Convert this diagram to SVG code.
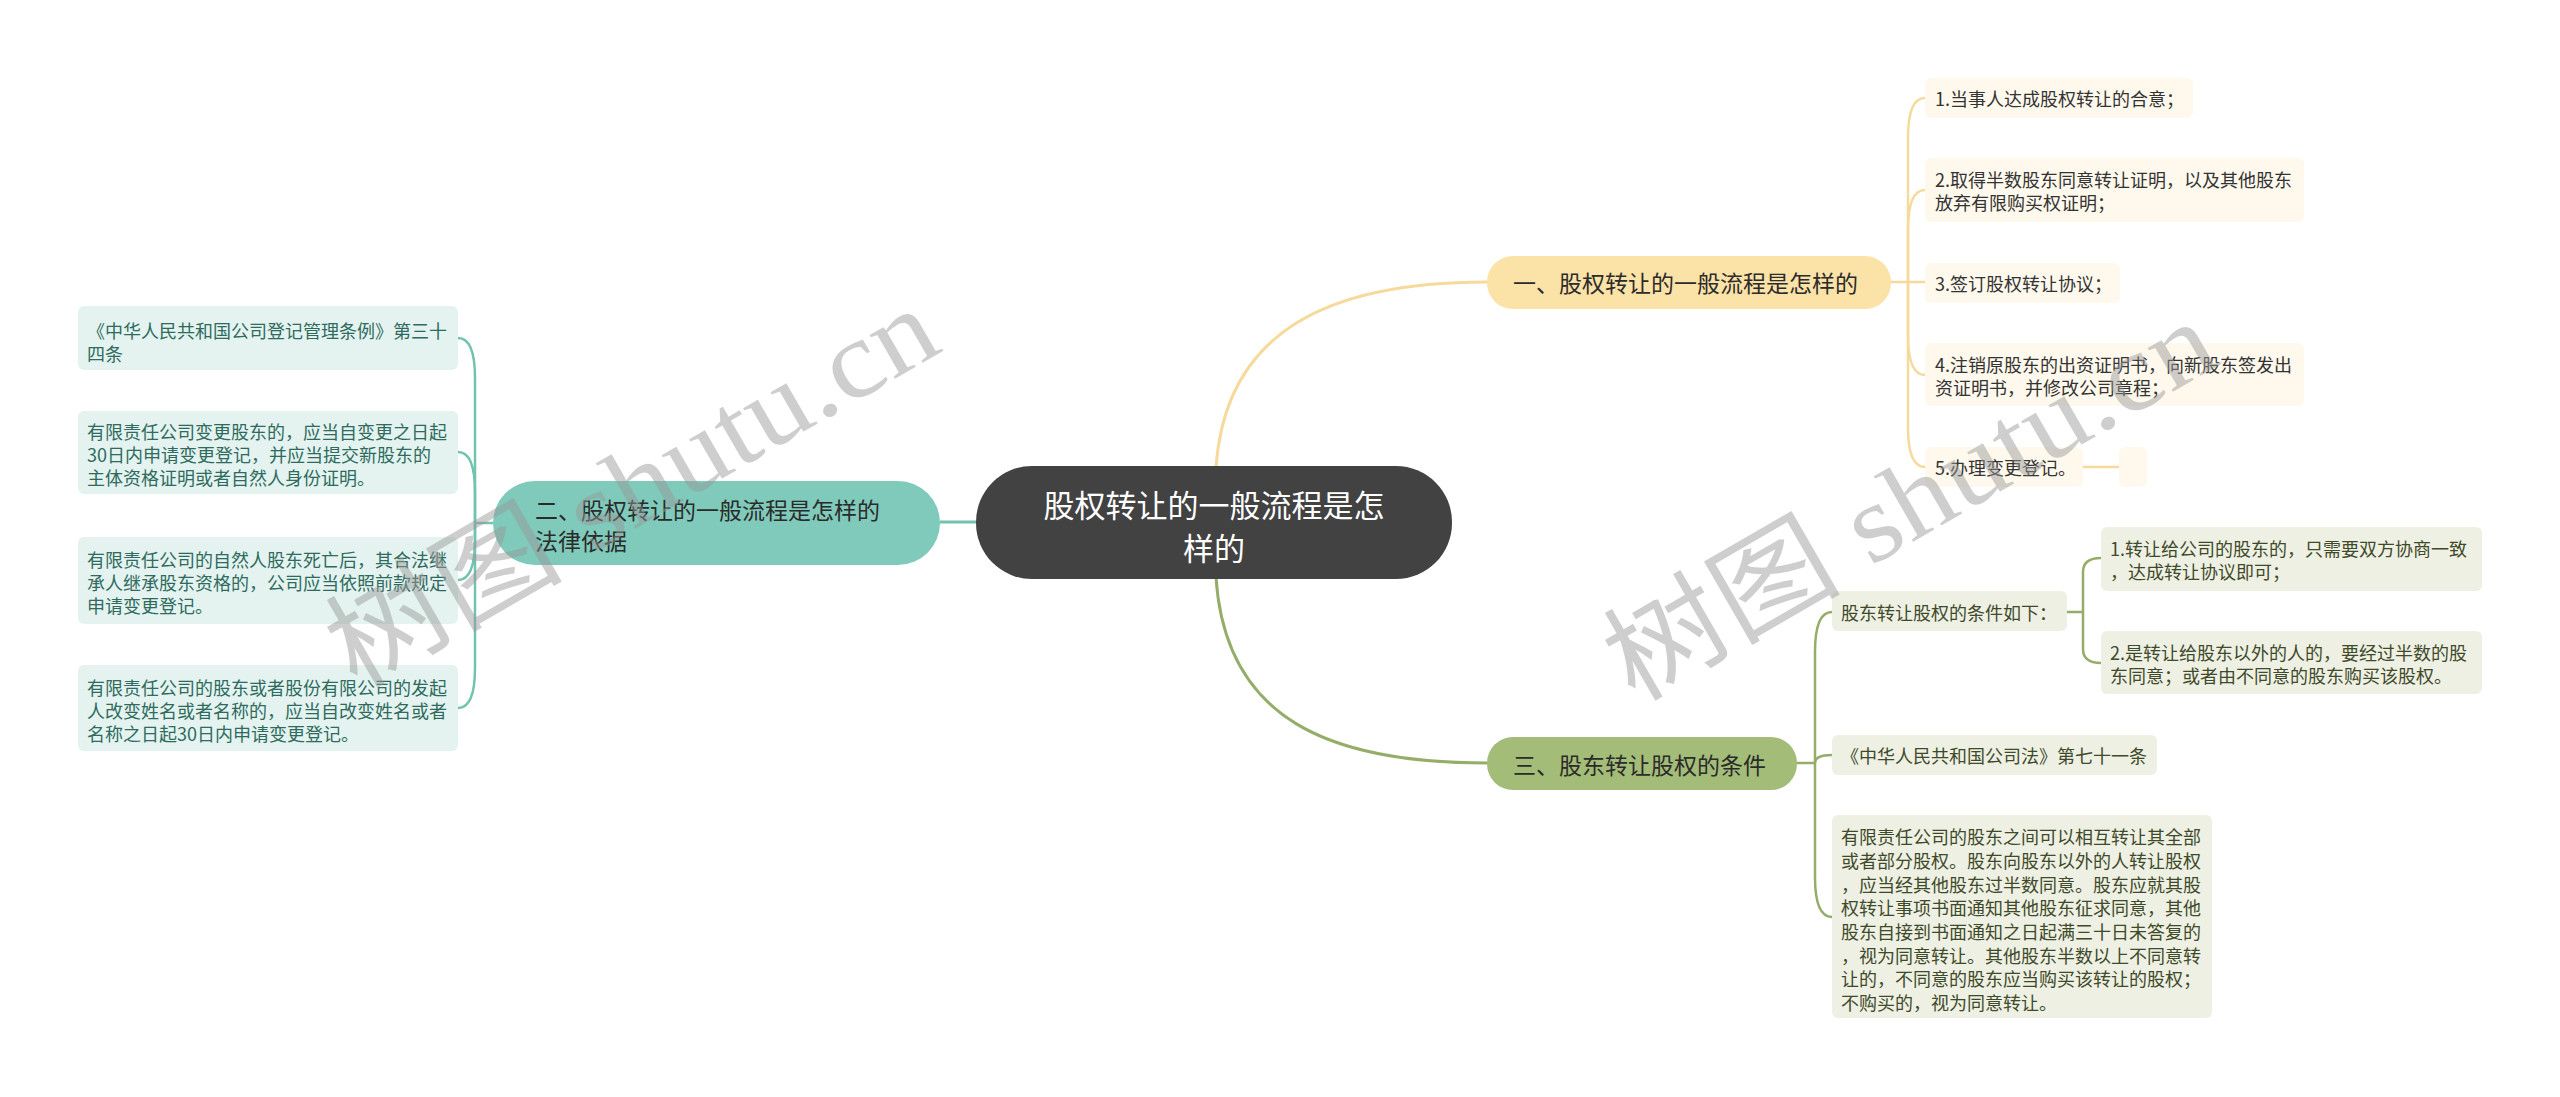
<svg xmlns="http://www.w3.org/2000/svg" width="2560" height="1097" viewBox="0 0 2560 1097">
<style>
text{font-family:"Noto Sans CJK SC","Liberation Sans",sans-serif;dominant-baseline:central}
.root{fill:#424242}
.rt{fill:#ffffff;font-size:31px;text-anchor:middle}
.b1{fill:#FBE2A7}.b2{fill:#7FCABA}.b3{fill:#A3BC77}
.bt{fill:#2b2b2b;font-size:23px}
.l1{fill:#FEF9EC}.l2{fill:#E4F3EF}.l3{fill:#EDF0E3}
.t1{fill:#333333;font-size:18px}.t2{fill:#2E6B5E;font-size:18px}.t3{fill:#3F4A2A;font-size:18px}
.c1{fill:none;stroke:#F6DA9C;stroke-width:2.5}
.c2{fill:none;stroke:#72C2B0;stroke-width:2.5}
.c3{fill:none;stroke:#95AD68;stroke-width:2.5}
.main{stroke-width:3}
.wm{font-family:"Liberation Serif","Noto Sans CJK SC",serif;font-size:110px;fill:#999999;opacity:0.47;dominant-baseline:alphabetic}
</style>
<rect width="2560" height="1097" fill="#ffffff"/>
<g id="connectors">
<path class="c1 main" d="M1216,468 C1225,330 1330,282 1487,282"/>
<path class="c3 main" d="M1216,577 C1225,720 1330,763 1487,763"/>
<path class="c2 main" d="M940,522 L976,522"/>
<path class="c1" d="M1891,282 L1925,282"/>
<path class="c1" d="M1908,282 L1908,138 Q1908,98 1925,98"/>
<path class="c1" d="M1908,282 L1908,230 Q1908,190 1925,190"/>
<path class="c1" d="M1908,282 L1908,335 Q1908,375 1925,375"/>
<path class="c1" d="M1908,282 L1908,427 Q1908,467 1925,467"/>
<path class="c1" d="M2083,467 L2119,467"/>
<path class="c2" d="M493,523 L475,523"/>
<path class="c2" d="M475,523 L475,378 Q475,338 458,338"/>
<path class="c2" d="M475,523 L475,492 Q475,452 458,452"/>
<path class="c2" d="M475,523 L475,540 Q475,580 458,580"/>
<path class="c2" d="M475,523 L475,668 Q475,708 458,708"/>
<path class="c3" d="M1797,763 L1815,763"/>
<path class="c3" d="M1815,763 L1815,652 Q1815,612 1832,612"/>
<path class="c3" d="M1815,763 Q1815,755 1832,755"/>
<path class="c3" d="M1815,763 L1815,877 Q1815,917 1832,917"/>
<path class="c3" d="M2067,612 L2083,612"/>
<path class="c3" d="M2083,612 L2083,572 Q2083,558 2101,558"/>
<path class="c3" d="M2083,612 L2083,649 Q2083,663 2101,663"/>
</g>
<g id="root">
<rect class="root" x="976" y="466" width="476" height="113" rx="56"/>
<text class="rt" x="1214" y="503">股权转让的一般流程是怎</text>
<text class="rt" x="1214" y="546">样的</text>
</g>
<g id="branch1">
<rect class="b1" x="1487" y="256" width="404" height="53" rx="26"/>
<text class="bt" x="1513" y="282">一、股权转让的一般流程是怎样的</text>
</g>
<g id="leaf1-1"><rect class="l1" x="1925" y="78" width="268" height="40" rx="6"/><text class="t1" x="1935" y="98">1.当事人达成股权转让的合意；</text></g>
<g id="leaf1-2"><rect class="l1" x="1925" y="158" width="379" height="64" rx="6"/><text class="t1" x="1935" y="179">2.取得半数股东同意转让证明，以及其他股东</text><text class="t1" x="1935" y="202">放弃有限购买权证明；</text></g>
<g id="leaf1-3"><rect class="l1" x="1925" y="263" width="195" height="40" rx="6"/><text class="t1" x="1935" y="283">3.签订股权转让协议；</text></g>
<g id="leaf1-4"><rect class="l1" x="1925" y="343" width="379" height="63" rx="6"/><text class="t1" x="1935" y="364">4.注销原股东的出资证明书，向新股东签发出</text><text class="t1" x="1935" y="387">资证明书，并修改公司章程；</text></g>
<g id="leaf1-5"><rect class="l1" x="1925" y="447" width="158" height="40" rx="6"/><text class="t1" x="1935" y="467">5.办理变更登记。</text></g>
<g id="leaf1-5-1"><rect class="l1" x="2119" y="447" width="28" height="40" rx="6"/></g>
<g id="branch2">
<rect class="b2" x="493" y="481" width="447" height="84" rx="42"/>
<text class="bt" x="535" y="509">二、股权转让的一般流程是怎样的</text>
<text class="bt" x="535" y="540">法律依据</text>
</g>
<g id="leaf2-1"><rect class="l2" x="78" y="306" width="380" height="64" rx="6"/><text class="t2" x="87" y="330">《中华人民共和国公司登记管理条例》第三十</text><text class="t2" x="87" y="353">四条</text></g>
<g id="leaf2-2"><rect class="l2" x="78" y="411" width="380" height="83" rx="6"/><text class="t2" x="87" y="431">有限责任公司变更股东的，应当自变更之日起</text><text class="t2" x="87" y="454">30日内申请变更登记，并应当提交新股东的</text><text class="t2" x="87" y="477">主体资格证明或者自然人身份证明。</text></g>
<g id="leaf2-3"><rect class="l2" x="78" y="537" width="380" height="87" rx="6"/><text class="t2" x="87" y="559">有限责任公司的自然人股东死亡后，其合法继</text><text class="t2" x="87" y="582">承人继承股东资格的，公司应当依照前款规定</text><text class="t2" x="87" y="605">申请变更登记。</text></g>
<g id="leaf2-4"><rect class="l2" x="78" y="665" width="380" height="86" rx="6"/><text class="t2" x="87" y="687">有限责任公司的股东或者股份有限公司的发起</text><text class="t2" x="87" y="710">人改变姓名或者名称的，应当自改变姓名或者</text><text class="t2" x="87" y="733">名称之日起30日内申请变更登记。</text></g>
<g id="branch3">
<rect class="b3" x="1487" y="737" width="310" height="53" rx="26"/>
<text class="bt" x="1513" y="764">三、股东转让股权的条件</text>
</g>
<g id="leaf3-1"><rect class="l3" x="1832" y="591" width="235" height="40" rx="6"/><text class="t3" x="1841" y="612">股东转让股权的条件如下：</text></g>
<g id="leaf3-1-1"><rect class="l3" x="2101" y="527" width="381" height="64" rx="6"/><text class="t3" x="2110" y="548">1.转让给公司的股东的，只需要双方协商一致</text><text class="t3" x="2110" y="571">，达成转让协议即可；</text></g>
<g id="leaf3-1-2"><rect class="l3" x="2101" y="631" width="381" height="63" rx="6"/><text class="t3" x="2110" y="652">2.是转让给股东以外的人的，要经过半数的股</text><text class="t3" x="2110" y="675">东同意；或者由不同意的股东购买该股权。</text></g>
<g id="leaf3-2"><rect class="l3" x="1832" y="735" width="325" height="40" rx="6"/><text class="t3" x="1841" y="755">《中华人民共和国公司法》第七十一条</text></g>
<g id="leaf3-3"><rect class="l3" x="1832" y="815" width="380" height="203" rx="6"/>
<text class="t3" x="1841" y="836">有限责任公司的股东之间可以相互转让其全部</text>
<text class="t3" x="1841" y="860">或者部分股权。股东向股东以外的人转让股权</text>
<text class="t3" x="1841" y="884">，应当经其他股东过半数同意。股东应就其股</text>
<text class="t3" x="1841" y="907">权转让事项书面通知其他股东征求同意，其他</text>
<text class="t3" x="1841" y="931">股东自接到书面通知之日起满三十日未答复的</text>
<text class="t3" x="1841" y="955">，视为同意转让。其他股东半数以上不同意转</text>
<text class="t3" x="1841" y="978">让的，不同意的股东应当购买该转让的股权；</text>
<text class="t3" x="1841" y="1002">不购买的，视为同意转让。</text>
</g>
<g id="watermarks">
<text class="wm" transform="translate(356,690) rotate(-30)" textLength="680" lengthAdjust="spacingAndGlyphs">树图 shutu.cn</text>
<text class="wm" transform="translate(1634,703) rotate(-30)" textLength="680" lengthAdjust="spacingAndGlyphs">树图 shutu.cn</text>
</g>
</svg>
